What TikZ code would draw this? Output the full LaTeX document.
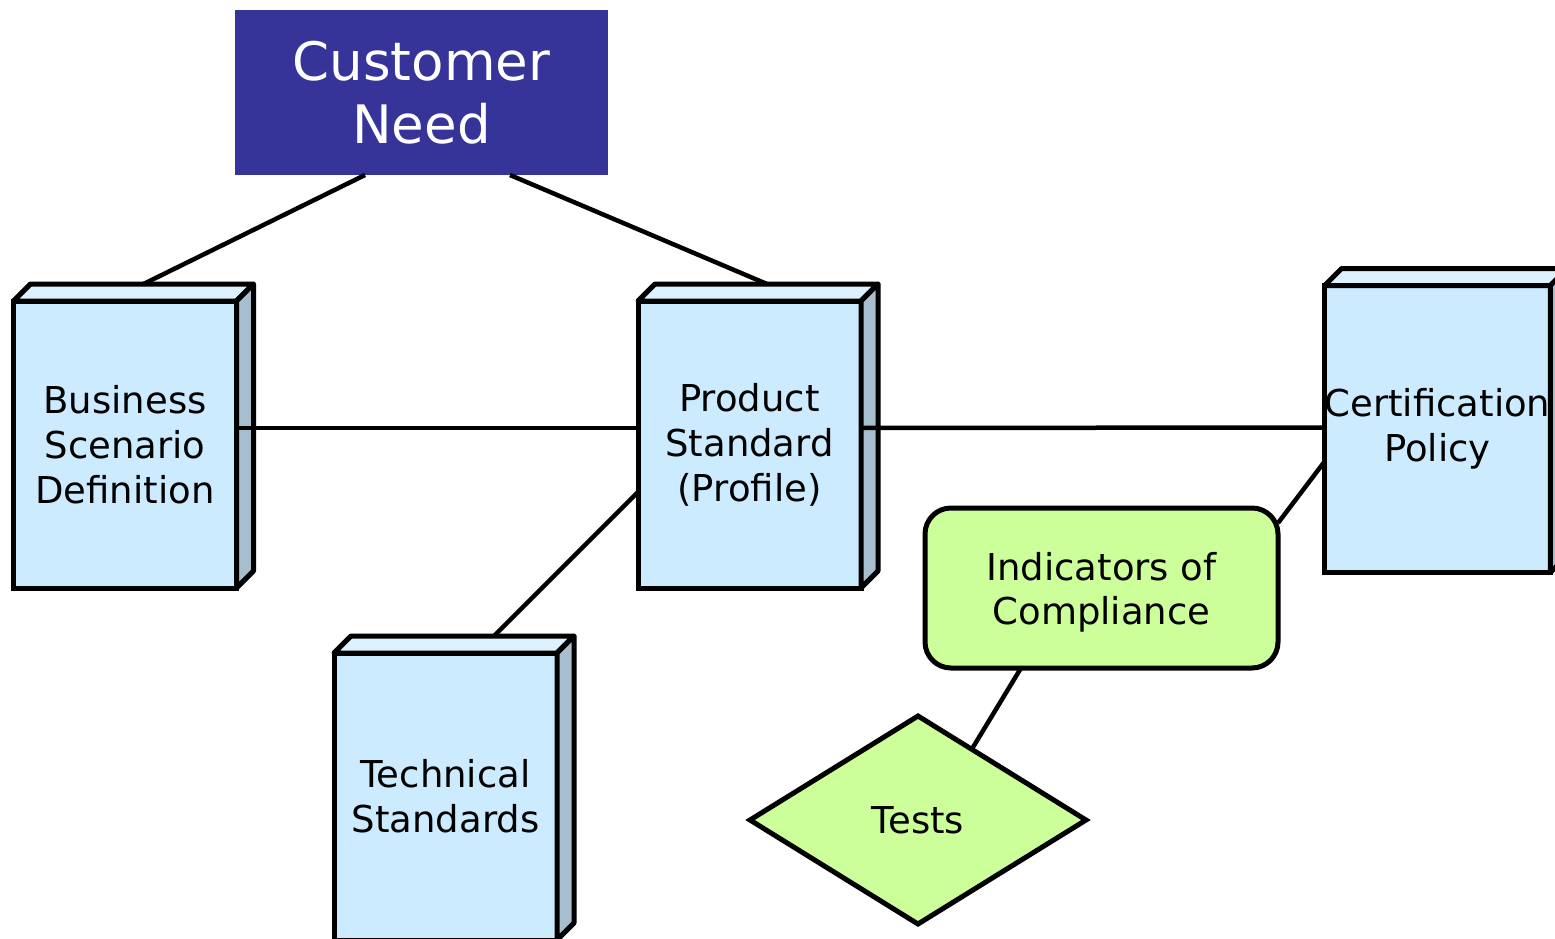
\documentclass[tikz,border=0pt]{standalone}
\usepackage{fontspec}
\setmainfont{DejaVu Sans}
\usetikzlibrary{shapes.geometric,calc}
\definecolor{frontblue}{HTML}{CCEBFF}
\definecolor{topblue}{HTML}{DCF2FF}
\definecolor{sideblue}{HTML}{A6BECE}
\definecolor{navy}{HTML}{363399}
\definecolor{lime}{HTML}{CCFF99}
\tikzset{
  bookfront/.style={draw=black, line width=5pt, fill=frontblue, rectangle, outer sep=0pt,
    minimum width=223pt, minimum height=287pt, inner sep=0pt, align=center,
    font=\fontsize{37}{45}\selectfont},
  bookface/.style={draw=black, line width=5pt, line join=round},
  link/.style={draw=black, line width=4.5pt},
}
\newcommand{\bookdepth}[1]{%
  \path[bookface, fill=topblue] (#1.north west) -- ++(17,-17) -- ($(#1.north east)+(17,-17)$) -- (#1.north east) -- cycle;
  \path[bookface, fill=sideblue] (#1.north east) -- ++(17,-17) -- ($(#1.south east)+(17,-17)$) -- (#1.south east) -- cycle;
}
\begin{document}
\begin{tikzpicture}[x=1pt,y=-1pt]
\useasboundingbox (0,0) rectangle (1555,939);
\fill[white] (0,0) rectangle (1555,939);

\node[fill=navy, text=white, minimum width=373pt, minimum height=165pt, inner sep=0pt, outer sep=0pt,
  align=center, font=\fontsize{53}{63}\selectfont] (cn) at (421.5,92.5) {Customer\\Need};

\node[bookfront] (bsd) at (125,444.5) {Business\\Scenario\\Definition};
\bookdepth{bsd}
\node[bookfront] (ps) at (749.5,444.5) {Product\\Standard\\(Profile)};
\bookdepth{ps}
\node[bookfront] (cp) at (1437.5,429) {Certification\\Policy};
\bookdepth{cp}
\node[bookfront] (ts) at (445.5,796.5) {Technical\\Standards};
\bookdepth{ts}

\node[draw=black, line width=5pt, fill=lime, rounded corners=26pt, minimum width=353pt, outer sep=0pt,
  minimum height=160pt, inner sep=0pt, align=center, text depth=0pt, font=\fontsize{37}{44}\selectfont]
  (ic) at (1101.5,588) {Indicators of\\Compliance};

\node[draw=black, line width=5pt, fill=lime, diamond, minimum width=336pt, minimum height=208pt, outer sep=0pt,
  inner sep=0pt, font=\fontsize{37}{45}\selectfont] (tt) at (918,820) {Tests};

\coordinate (cnA) at ($(cn.south west)+(130,0)$);
\coordinate (cnB) at ($(cn.south west)+(275,0)$);
\coordinate (bsdTop) at ($(bsd.north west)+(130,-17)$);
\coordinate (psTop) at ($(ps.north west)+(129,-17)$);
\coordinate (bsdR) at ($(bsd.north east)+(0,127)$);
\coordinate (psL) at ($(ps.north west)+(0,127)$);
\coordinate (psR) at ($(ps.north east)+(0,127)$);
\coordinate (cpL) at ($(cp.north west)+(0,142)$);
\coordinate (psL2) at ($(ps.north west)+(0,191)$);
\coordinate (tsTop) at ($(ts.north west)+(160,-17)$);
\coordinate (cpL2) at ($(cp.north west)+(0,176)$);
\coordinate (icR) at ($(ic.north east)+(0,15)$);
\coordinate (icB) at ($(ic.south west)+(96,0)$);
\coordinate (ttE) at ($(tt.north)!0.32!(tt.east)$);

\draw[link] (cnA) -- (bsdTop);
\draw[link] (cnB) -- (psTop);
\draw[link] (bsdR) -- (psL);
\draw[link] (psR) -- (cpL);
\draw[link] (psL2) -- (tsTop);
\draw[link] (cpL2) -- (icR);
\draw[link] (icB) -- (ttE);
\end{tikzpicture}
\end{document}
